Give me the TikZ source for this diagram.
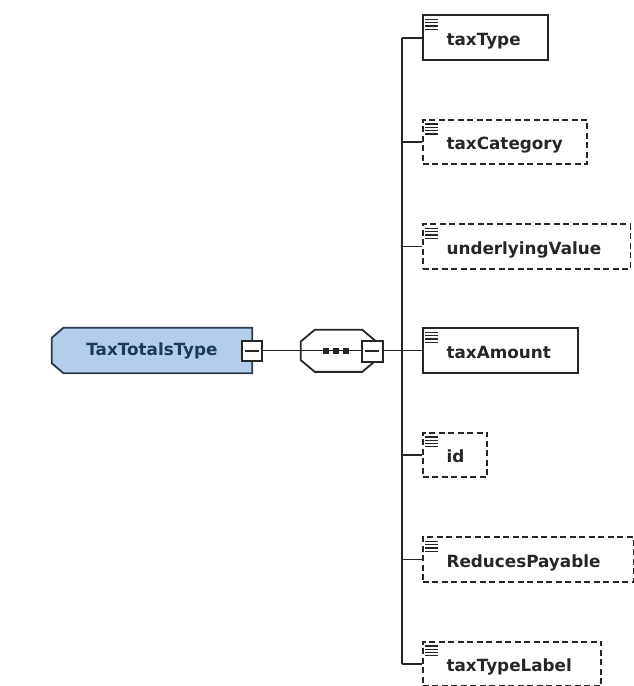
\documentclass[tikz,border=0pt]{standalone}
\usepackage{fontspec}
\setmainfont{DejaVu Sans}
\usetikzlibrary{backgrounds}

\definecolor{rootfill}{HTML}{B3CDEA}
\definecolor{rootedge}{HTML}{2E3B4B}
\definecolor{roottext}{HTML}{1D3A5C}
\definecolor{linegray}{HTML}{262626}

\tikzset{
  elem/.style={draw=linegray, line width=1.8pt, anchor=west, minimum height=44.5pt,
    inner xsep=24pt, inner ysep=0pt, text width=#1, align=left,
    text height=15pt, text depth=0pt, text=linegray},
  optelem/.style={elem=#1, dash pattern=on 6pt off 3.5pt},
  minusbox/.style={draw=linegray, fill=white, line width=1.8pt, minimum size=20pt, inner sep=0pt},
  conn/.style={draw=linegray, line width=1.8pt},
  iconline/.style={draw=linegray, line width=1.3pt},
}

\begin{document}
\begin{tikzpicture}[x=1pt, y=-1pt, font=\bfseries\fontsize{16.8}{20}\selectfont]
\useasboundingbox (0,0) rectangle (634,686);

% complex type and the sequence
\node[text=roottext, minimum width=200pt, minimum height=45pt, inner sep=0pt] (root) at (152,350.5) {TaxTotalsType};
\node[minusbox] (rootminus) at (251.7,351.2) {};
\node[minimum width=75pt, minimum height=41.7pt, inner sep=0pt] (seq) at (338.5,350.8) {};
\node[minusbox, minimum size=21pt] (seqminus) at (372.2,351.2) {};

\begin{scope}[on background layer]
\draw[fill=rootfill, draw=rootedge, line width=1.8pt]
  ([xshift=11.5pt]root.north west) -- (root.north east) -- (root.south east)
  -- ([xshift=11.5pt]root.south west) -- ([yshift=10pt]root.south west)
  -- ([yshift=-10pt]root.north west) -- cycle;
\draw[conn, fill=white]
  ([xshift=14pt]seq.north west) -- ([xshift=-14pt]seq.north east)
  -- ([yshift=-11.7pt]seq.north east) -- ([yshift=11.7pt]seq.south east)
  -- ([xshift=-14pt]seq.south east) -- ([xshift=14pt]seq.south west)
  -- ([yshift=11.7pt]seq.south west) -- ([yshift=-11.7pt]seq.north west) -- cycle;
\draw[conn] (rootminus.east |- root.center) -- (seqminus.west |- root.center);
\end{scope}

% sequence dots and minus signs
\foreach \x in {325.7,336,345.7}
  \fill[linegray] (\x,350.5) +(-3,-3) rectangle +(3,3);
\foreach \b in {rootminus,seqminus}
  \draw[conn] ([xshift=-7pt]\b.center) -- ([xshift=7pt]\b.center);

% child elements
\node[elem=77pt] (taxtype) at (421.7,37.6) {taxType};
\node[optelem=116.5pt] (taxcat) at (421.7,142.1) {taxCategory};
\node[optelem=159.8pt] (undval) at (421.7,246.5) {underlyingValue};
\node[elem=107.3pt] (taxamount) at (421.7,350.5) {taxAmount};
\node[optelem=16.7pt] (id) at (421.7,455) {id};
\node[optelem=163pt] (redpay) at (421.7,559.5) {ReducesPayable};
\node[optelem=130.7pt] (typelabel) at (421.7,664) {taxTypeLabel};

% icons
\foreach \n in {taxtype,taxcat,undval,taxamount,id,redpay,typelabel}
  \foreach \k in {0,...,3}
    \draw[iconline] ([shift={(3.5,5+3.3*\k)}]\n.north west) -- ++(12.5,0);

% bus and branches
\coordinate (bus) at (401.7,350.5);
\draw[conn] (taxtype.west -| bus) -- (typelabel.west -| bus);
\foreach \n in {taxtype,taxcat,undval,id,redpay,typelabel}
  \draw[conn] (\n.west -| bus) -- (\n.west);
\draw[conn] (seqminus.east |- taxamount.west) -- (taxamount.west);

\end{tikzpicture}
\end{document}
